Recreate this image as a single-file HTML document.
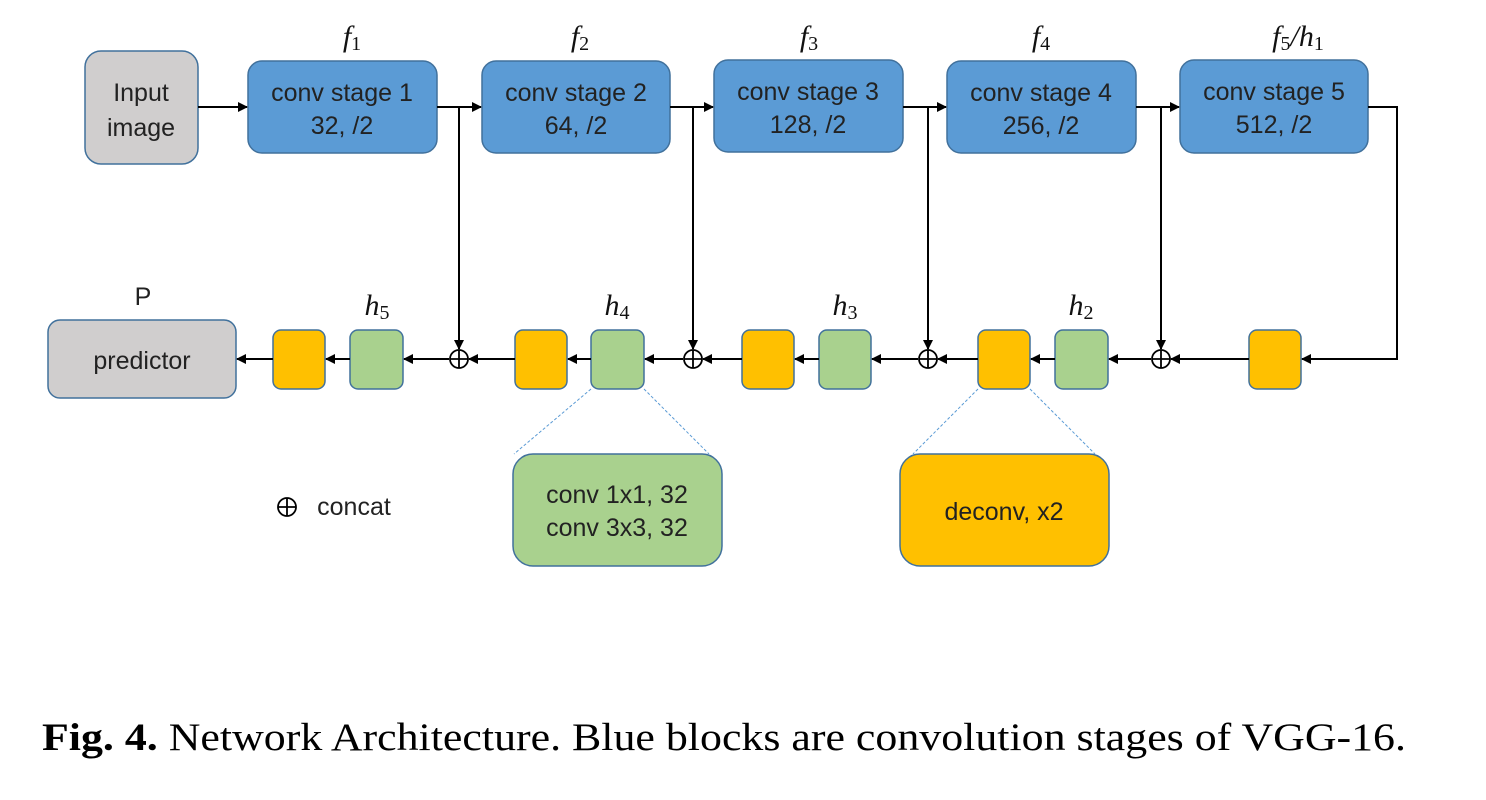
<!DOCTYPE html>
<html><head><meta charset="utf-8"><style>
html,body{margin:0;padding:0;background:#fff;}
svg{display:block;}
.s{font-family:"Liberation Sans",sans-serif;font-size:25px;fill:#222;text-anchor:middle;}
.m{font-family:"Liberation Serif",serif;font-style:italic;font-size:30px;fill:#111;text-anchor:middle;}
.sub{font-style:normal;font-size:20px;}
</style></head><body>
<svg width="1486" height="800" viewBox="0 0 1486 800" xmlns="http://www.w3.org/2000/svg">
<defs>
<marker id="a" markerWidth="10" markerHeight="10" refX="9" refY="5" orient="auto" markerUnits="userSpaceOnUse">
<path d="M0,0 L10,5 L0,10 z" fill="#000"/></marker>
</defs>
<g stroke="#41719c" stroke-width="1.5">
<rect x="85" y="51" width="113" height="113" rx="16" fill="#d0cece"/>
<rect x="248" y="61" width="189" height="92" rx="14" fill="#5b9bd5"/>
<rect x="482" y="61" width="188" height="92" rx="14" fill="#5b9bd5"/>
<rect x="714" y="60" width="189" height="92" rx="14" fill="#5b9bd5"/>
<rect x="947" y="61" width="189" height="92" rx="14" fill="#5b9bd5"/>
<rect x="1180" y="60" width="188" height="93" rx="14" fill="#5b9bd5"/>
<rect x="48" y="320" width="188" height="78" rx="12" fill="#d0cece"/>
<rect x="273" y="330" width="52" height="59" rx="8" fill="#ffc000"/>
<rect x="350" y="330" width="53" height="59" rx="8" fill="#a9d18e"/>
<rect x="515" y="330" width="52" height="59" rx="8" fill="#ffc000"/>
<rect x="591" y="330" width="53" height="59" rx="8" fill="#a9d18e"/>
<rect x="742" y="330" width="52" height="59" rx="8" fill="#ffc000"/>
<rect x="819" y="330" width="52" height="59" rx="8" fill="#a9d18e"/>
<rect x="978" y="330" width="52" height="59" rx="8" fill="#ffc000"/>
<rect x="1055" y="330" width="53" height="59" rx="8" fill="#a9d18e"/>
<rect x="1249" y="330" width="52" height="59" rx="8" fill="#ffc000"/>
<rect x="513" y="454" width="209" height="112" rx="20" fill="#a9d18e"/>
<rect x="900" y="454" width="209" height="112" rx="20" fill="#ffc000"/>
</g>
<g stroke="#5b9bd5" stroke-width="1" stroke-dasharray="3,2" fill="none">
<line x1="591" y1="389" x2="514" y2="454"/><line x1="644" y1="389" x2="709" y2="454"/>
<line x1="978" y1="389" x2="913" y2="454"/><line x1="1030" y1="389" x2="1095" y2="454"/>
</g>
<g stroke="#000" stroke-width="2" fill="none">
<line x1="198" y1="107" x2="247" y2="107" marker-end="url(#a)"/>
<line x1="437" y1="107" x2="481" y2="107" marker-end="url(#a)"/>
<line x1="670" y1="107" x2="713" y2="107" marker-end="url(#a)"/>
<line x1="903" y1="107" x2="946" y2="107" marker-end="url(#a)"/>
<line x1="1136" y1="107" x2="1179" y2="107" marker-end="url(#a)"/>
<line x1="459" y1="107" x2="459" y2="349" marker-end="url(#a)"/>
<line x1="693" y1="107" x2="693" y2="349" marker-end="url(#a)"/>
<line x1="928" y1="107" x2="928" y2="349" marker-end="url(#a)"/>
<line x1="1161" y1="107" x2="1161" y2="349" marker-end="url(#a)"/>
<polyline points="1368,107 1397,107 1397,359 1302,359" marker-end="url(#a)"/>
<line x1="1249" y1="359" x2="1171" y2="359" marker-end="url(#a)"/>
<line x1="1151" y1="359" x2="1109" y2="359" marker-end="url(#a)"/>
<line x1="1055" y1="359" x2="1031" y2="359" marker-end="url(#a)"/>
<line x1="978" y1="359" x2="938" y2="359" marker-end="url(#a)"/>
<line x1="918" y1="359" x2="872" y2="359" marker-end="url(#a)"/>
<line x1="819" y1="359" x2="795" y2="359" marker-end="url(#a)"/>
<line x1="742" y1="359" x2="703" y2="359" marker-end="url(#a)"/>
<line x1="683" y1="359" x2="645" y2="359" marker-end="url(#a)"/>
<line x1="591" y1="359" x2="568" y2="359" marker-end="url(#a)"/>
<line x1="515" y1="359" x2="469" y2="359" marker-end="url(#a)"/>
<line x1="449" y1="359" x2="404" y2="359" marker-end="url(#a)"/>
<line x1="350" y1="359" x2="326" y2="359" marker-end="url(#a)"/>
<line x1="273" y1="359" x2="237" y2="359" marker-end="url(#a)"/>
</g>
<g stroke="#000" stroke-width="1.8" fill="#fff">
<circle cx="459" cy="359" r="9"/><circle cx="693" cy="359" r="9"/>
<circle cx="928" cy="359" r="9"/><circle cx="1161" cy="359" r="9"/>
<circle cx="287" cy="507" r="9"/>
</g>
<g stroke="#000" stroke-width="1.8">
<path d="M450,359H468M459,350V368M684,359H702M693,350V368M919,359H937M928,350V368M1152,359H1170M1161,350V368M278,507H296M287,498V516"/>
</g>
<text class="s" x="141" y="101">Input</text><text class="s" x="141" y="136">image</text>
<text class="s" x="342" y="101">conv stage 1</text><text class="s" x="342" y="134">32, /2</text>
<text class="s" x="576" y="101">conv stage 2</text><text class="s" x="576" y="134">64, /2</text>
<text class="s" x="808" y="100">conv stage 3</text><text class="s" x="808" y="133">128, /2</text>
<text class="s" x="1041" y="101">conv stage 4</text><text class="s" x="1041" y="134">256, /2</text>
<text class="s" x="1274" y="100">conv stage 5</text><text class="s" x="1274" y="133">512, /2</text>
<text class="s" x="142" y="369">predictor</text>
<text class="s" x="143" y="305">P</text>
<text class="s" x="617" y="503">conv 1x1, 32</text><text class="s" x="617" y="536">conv 3x3, 32</text>
<text class="s" x="1004" y="520">deconv, x2</text>
<text class="s" x="354" y="515">concat</text>
<text class="m" x="352" y="46">f<tspan class="sub" dy="4">1</tspan></text>
<text class="m" x="580" y="46">f<tspan class="sub" dy="4">2</tspan></text>
<text class="m" x="809" y="46">f<tspan class="sub" dy="4">3</tspan></text>
<text class="m" x="1041" y="46">f<tspan class="sub" dy="4">4</tspan></text>
<text class="m" x="1298" y="46">f<tspan class="sub" dy="4">5</tspan><tspan dy="-4">/h</tspan><tspan class="sub" dy="4">1</tspan></text>
<text class="m" x="377" y="315">h<tspan class="sub" dy="4">5</tspan></text>
<text class="m" x="617" y="315">h<tspan class="sub" dy="4">4</tspan></text>
<text class="m" x="845" y="315">h<tspan class="sub" dy="4">3</tspan></text>
<text class="m" x="1081" y="315">h<tspan class="sub" dy="4">2</tspan></text>
<text x="42" y="750" font-family="Liberation Serif,serif" font-size="39" fill="#000" textLength="1364" lengthAdjust="spacingAndGlyphs"><tspan font-weight="bold">Fig. 4.</tspan> Network Architecture. Blue blocks are convolution stages of VGG-16.</text>
</svg>
</body></html>
